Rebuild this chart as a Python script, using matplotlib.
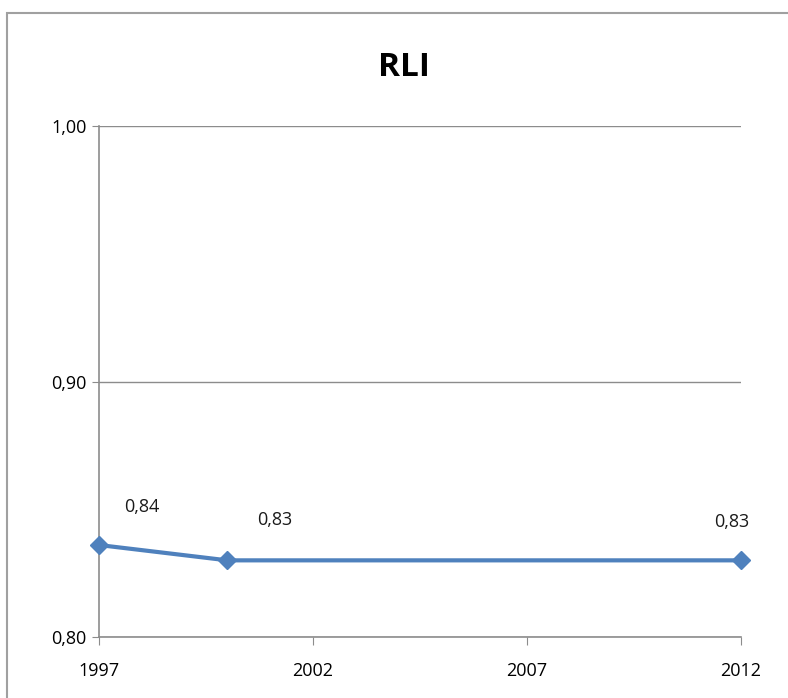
import matplotlib.pyplot as plt
from matplotlib.patches import Rectangle

# data
years = [1997, 2000, 2012]
rli = [0.836, 0.830, 0.830]
labels = ["0,84", "0,83", "0,83"]
label_offsets = [(43, 38), (47, 40), (-9, 38)]  # pixels
xticks = [1997, 2002, 2007, 2012]
yticks = [0.80, 0.90, 1.00]
ytick_labels = ["0,80", "0,90", "1,00"]

plt.rcParams['font.family'] = ['Open Sans', 'DejaVu Sans']

fig = plt.figure(figsize=(7.88, 6.98), dpi=100)
ax = fig.add_axes([99 / 788, 1 - 637 / 698, (741 - 99) / 788, (637 - 126) / 698])

# outer chart border like Excel
fig.patches.append(Rectangle((7 / 788, -0.01), 1.0, 1 - 13 / 698 + 0.01,
                             transform=fig.transFigure, fill=False,
                             edgecolor='#a0a0a0', linewidth=1.5))

ax.plot(years, rli, color='#4F81BD', linewidth=3, marker='D',
        markersize=9, clip_on=False, zorder=5)

for x, y, lab, (dx, dy) in zip(years, rli, labels, label_offsets):
    ax.annotate(lab, (x, y), xytext=(dx, dy), textcoords='offset pixels',
                ha='center', va='center', fontsize=13, color='#1a1a1a')

ax.set_xlim(1997, 2012)
ax.set_ylim(0.80, 1.00)
ax.set_xticks(xticks)
ax.set_xticklabels([str(v) for v in xticks])
ax.set_yticks(yticks)
ax.set_yticklabels(ytick_labels)

ax.grid(axis='y', color='#8c8c8c', linewidth=1)
ax.set_axisbelow(True)
for s in ['top', 'right']:
    ax.spines[s].set_visible(False)
for s in ['left', 'bottom']:
    ax.spines[s].set_color('#8c8c8c')
    ax.spines[s].set_linewidth(1.2)

ax.tick_params(axis='x', length=6, color='#8c8c8c', pad=12, labelsize=13)
ax.tick_params(axis='y', length=5, color='#8c8c8c', pad=4, labelsize=13)

fig.text(404 / 788, 1 - 67 / 698, "RLI", ha='center', va='center',
         fontsize=24, fontweight='bold')

fig.savefig('out.png', dpi=100)
